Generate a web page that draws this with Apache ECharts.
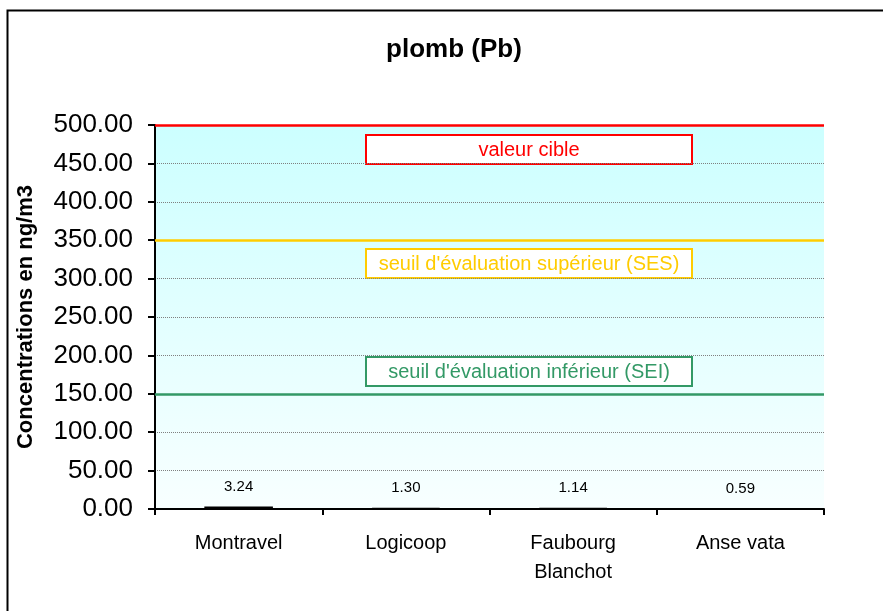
<!DOCTYPE html>
<html><head><meta charset="utf-8">
<script src="https://cdn.jsdelivr.net/npm/echarts@6/dist/echarts.min.js"></script>
<style>html,body{margin:0;padding:0;background:#fff}#c{width:883px;height:611px}</style>
</head><body><div id="c"></div>
<script>
const categories = ['Montravel', 'Logicoop', 'Faubourg\nBlanchot', 'Anse vata'];
const values = [3.24, 1.30, 1.14, 0.59];
const thresholdValues = [500, 350, 150];
const thresholdNames = ['valeur cible', "seuil d'évaluation supérieur (SES)", "seuil d'évaluation inférieur (SEI)"];
const thresholdColors = ['#FF0000', '#FFCC00', '#339966'];
const yMin = 0, yMax = 500, yStep = 50;

const chart = echarts.init(document.getElementById('c'));
const F = 'Arial, "Liberation Sans", sans-serif';

const boxTops = [134, 248, 356];
const graphics = [{
  type: 'rect', left: 5, top: 8, shape: { x: 0, y: 0, width: 900, height: 700 },
  style: { fill: 'none', stroke: '#000', lineWidth: 2 }, silent: true, z: 100
}];
thresholdNames.forEach((n, i) => {
  graphics.push({
    type: 'group', left: 365, top: boxTops[i], z: 50,
    children: [
      { type: 'rect', shape: { x: 0, y: 0, width: 326, height: 29 },
        style: { fill: '#fff', stroke: thresholdColors[i], lineWidth: 2 } },
      { type: 'text', x: 163, y: 15,
        style: { text: n, fill: thresholdColors[i], font: '20px ' + F, align: 'center', verticalAlign: 'middle' } }
    ]
  });
});

chart.setOption({
  animation: false,
  title: { text: 'plomb (Pb)', left: 449, top: 32, textAlign: 'center',
    textStyle: { fontFamily: F, fontSize: 26, fontWeight: 'bold', color: '#000' } },
  grid: { left: 155, right: 59, top: 125, bottom: 102, show: true, borderWidth: 0,
    backgroundColor: { type: 'linear', x: 0, y: 0, x2: 0, y2: 1,
      colorStops: [{ offset: 0, color: '#CCFFFF' }, { offset: 1, color: '#F8FFFF' }] } },
  xAxis: {
    type: 'category', data: categories, z: 1,
    axisLine: { lineStyle: { color: '#000', width: 2 } },
    axisTick: { show: true, length: 6, lineStyle: { color: '#000', width: 2 } },
    axisLabel: { color: '#000', fontFamily: F, fontSize: 20, margin: 20, lineHeight: 29 }
  },
  yAxis: {
    type: 'value', min: yMin, max: yMax, interval: yStep,
    name: 'Concentrations en ng/m3', nameLocation: 'middle', nameGap: 118,
    nameTextStyle: { fontFamily: F, fontSize: 22, fontWeight: 'bold', color: '#000' },
    axisLine: { show: true, lineStyle: { color: '#000', width: 2 } },
    axisTick: { show: true, length: 7, lineStyle: { color: '#000', width: 2 } },
    axisLabel: { color: '#000', fontFamily: F, fontSize: 26, margin: 22, formatter: v => v.toFixed(2) },
    splitLine: { show: true, lineStyle: { color: '#808080', type: 'dotted', width: 1 } }
  },
  series: [{
    type: 'bar', data: values, barWidth: '41%', z: 5,
    itemStyle: { color: '#000', borderColor: '#000', borderWidth: 1.5 },
    label: { show: true, position: 'top', distance: 12, color: '#000', fontFamily: F, fontSize: 15,
      formatter: p => p.value.toFixed(2) },
    markLine: {
      silent: true, symbol: 'none', label: { show: false },
      data: thresholdValues.map((v, i) => ({ yAxis: v, lineStyle: { color: thresholdColors[i], width: 2.5, type: 'solid' } }))
    }
  }],
  graphic: graphics
});
</script></body></html>
